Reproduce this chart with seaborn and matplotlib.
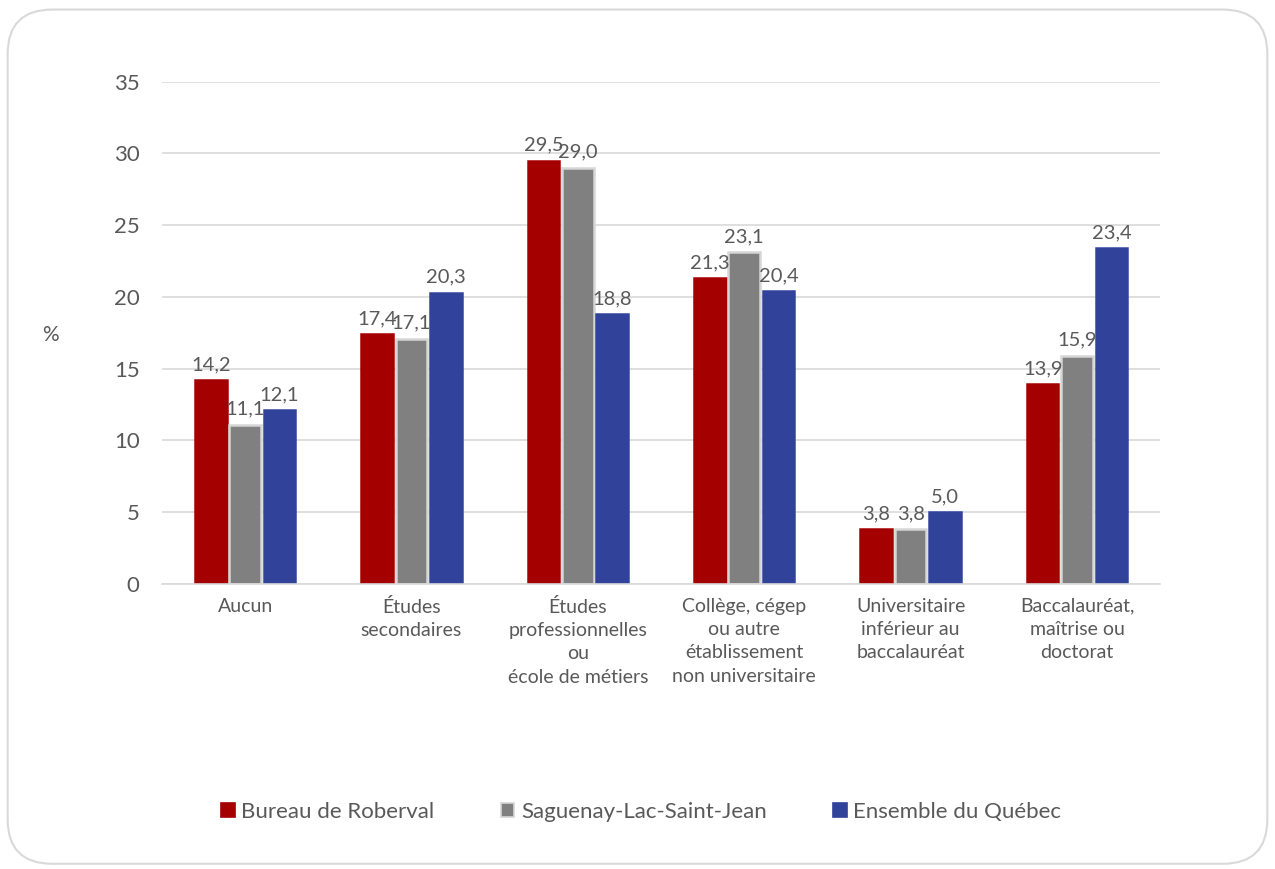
import matplotlib
matplotlib.use("Agg")
import matplotlib.pyplot as plt
from matplotlib.patches import FancyBboxPatch, Patch
import pandas as pd
import seaborn as sns

CATEGORIES = [
    "Aucun",
    "Études\nsecondaires",
    "Études\nprofessionnelles\nou\nécole de métiers",
    "Collège, cégep\nou autre\nétablissement\nnon universitaire",
    "Universitaire\ninférieur au\nbaccalauréat",
    "Baccalauréat,\nmaîtrise ou\ndoctorat",
]
SERIES = ["Bureau de Roberval", "Saguenay-Lac-Saint-Jean", "Ensemble du Québec"]
ROBERVAL = [14.2, 17.4, 29.5, 21.3, 3.8, 13.9]
SAGUENAY = [11.1, 17.1, 29.0, 23.1, 3.8, 15.9]
QUEBEC = [12.1, 20.3, 18.8, 20.4, 5.0, 23.4]

COLORS = ["#A50000", "#808080", "#31429A"]
EDGES = ["#A50000", "#D6D6D6", "#31429A"]
TEXT = "#595959"

sns.set_theme(style="white")
plt.rcParams["font.family"] = ["Lato", "DejaVu Sans"]

df = pd.DataFrame({
    "cat": CATEGORIES * 3,
    "serie": sum([[s] * len(CATEGORIES) for s in SERIES], []),
    "val": ROBERVAL + SAGUENAY + QUEBEC,
})

fig = plt.figure(figsize=(12.75, 8.69), dpi=100)
fig.patches.append(FancyBboxPatch((0.006, 0.006), 0.988, 0.983,
                                  boxstyle="round,pad=0,rounding_size=0.035",
                                  transform=fig.transFigure, facecolor="white",
                                  edgecolor="#D9D9D9", lw=1.5, zorder=-1,
                                  mutation_aspect=1275 / 869))
ax = fig.add_axes([0.127, 0.328, 0.783, 0.578])
ax.set_facecolor("none")

sns.barplot(data=df, x="cat", y="val", hue="serie", order=CATEGORIES,
            hue_order=SERIES, palette=COLORS, width=0.62, gap=0.08,
            ax=ax, legend=False, saturation=1)

for cont, ec, vals in zip(ax.containers, EDGES, [ROBERVAL, SAGUENAY, QUEBEC]):
    for bar in cont:
        bar.set_edgecolor(ec)
        bar.set_linewidth(1.8)
    ax.bar_label(cont, labels=[f"{v:.1f}".replace(".", ",") for v in vals],
                 padding=5, fontsize=14.5, color=TEXT)

ax.set_ylim(0, 35)
ax.set_xlim(-0.5, 5.5)
ax.set_yticks(range(0, 36, 5))
ax.yaxis.grid(True, color="#D9D9D9", lw=1.2)
ax.set_axisbelow(True)
for s in ["top", "right", "left"]:
    ax.spines[s].set_visible(False)
ax.spines["bottom"].set_color("#D9D9D9")
ax.spines["bottom"].set_linewidth(1.2)
ax.tick_params(axis="y", length=0, pad=16, labelsize=16, labelcolor=TEXT)
ax.tick_params(axis="x", length=0, pad=10, labelsize=14, labelcolor=TEXT)
for lbl in ax.get_xticklabels():
    lbl.set_linespacing(1.45)
    lbl.set_verticalalignment("top")
ax.set_xlabel("")
ax.set_ylabel("%", rotation=0, fontsize=15, color=TEXT)
ax.yaxis.set_label_coords(-0.112, 0.475)

handles = [Patch(facecolor=c, edgecolor=e, lw=1.2) for c, e in zip(COLORS, EDGES)]
fig.legend(handles, SERIES, loc="center", bbox_to_anchor=(0.503, 0.066), ncol=3,
           frameon=False, fontsize=16, labelcolor=TEXT, handlelength=0.6,
           handleheight=0.6, handletextpad=0.3, columnspacing=3.0)

fig.savefig("out.png", dpi=100)
